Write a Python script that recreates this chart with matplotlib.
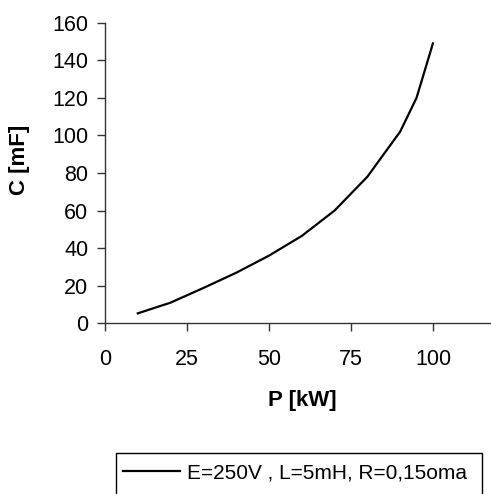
import matplotlib
matplotlib.use("Agg")
import matplotlib.pyplot as plt
from matplotlib.patches import Rectangle

P_kW = [10, 20, 30, 40, 50, 60, 70, 80, 90, 95, 100]
C_mF = [5.3, 11.0, 18.8, 26.9, 36.0, 46.5, 60.0, 78.0, 102.0, 120.0, 149.0]
series_label = "E=250V , L=5mH, R=0,15oma"
x_ticks = [0, 25, 50, 75, 100]
y_ticks = [0, 20, 40, 60, 80, 100, 120, 140, 160]

plt.rcParams['font.family'] = ['Liberation Sans', 'DejaVu Sans']

W, H = 491, 494
fig = plt.figure(figsize=(W / 100, H / 100), dpi=100)
ax = fig.add_axes([105 / W, (H - 323.3) / H, 385 / W, (323.3 - 22.7) / H])

line, = ax.plot(P_kW, C_mF, color='black', lw=1.6, label=series_label)

ax.set_xlim(0, 117.4)
ax.set_ylim(0, 160)
ax.set_xticks(x_ticks)
ax.set_yticks(y_ticks)
ax.spines['top'].set_visible(False)
ax.spines['right'].set_visible(False)
for s in ('left', 'bottom'):
    ax.spines[s].set_color('#333333')
    ax.spines[s].set_linewidth(1.0)
ax.tick_params(axis='both', direction='out', length=5.5, width=1.0, color='#333333',
               labelsize=15.5)
ax.tick_params(axis='x', pad=13)
ax.tick_params(axis='y', pad=6.5)

ax.set_xlabel("P [kW]", fontsize=16, fontweight='bold')
ax.set_ylabel("C [mF]", fontsize=16, fontweight='bold')
ax.xaxis.set_label_coords((302 - 105) / 385, -(400 - 323.3) / 300.6, transform=ax.transAxes)
ax.xaxis.label.set_va('center')
ax.yaxis.set_label_coords((20 - 105) / 385, (323.3 - 160) / 300.6, transform=ax.transAxes)
ax.yaxis.label.set_va('center')

leg = fig.legend(handles=[line], loc='center left',
                 bbox_to_anchor=(123 / W, (H - 473) / H),
                 fontsize=15, frameon=False,
                 handlelength=2.75, handletextpad=0.3, borderpad=0,
                 borderaxespad=0)
fig.patches.append(Rectangle((116 / W, -10 / H), (482 - 116) / W, (H - 453 + 10) / H,
                             transform=fig.transFigure, fill=False,
                             edgecolor='black', linewidth=1.0))

fig.savefig("out.png", dpi=100)
